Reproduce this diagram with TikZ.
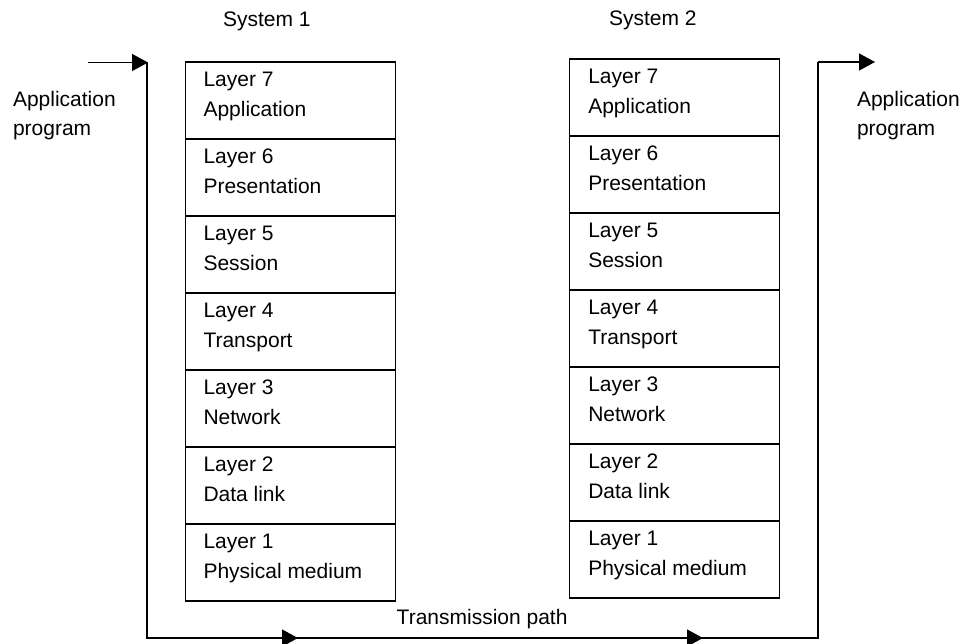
\documentclass[tikz,border=0pt]{standalone}
\usepackage{fontspec}
\setmainfont{Liberation Sans}
\usetikzlibrary{arrows.meta,calc}
\begin{document}
\begin{tikzpicture}[x=1pt,y=-1pt,
  every node/.style={font=\fontsize{21}{30}\selectfont, inner sep=0pt, outer sep=0pt},
  layerbox/.style={draw, line width=1.3pt, minimum width=210pt, minimum height=77pt, anchor=north west},
  txt/.style={anchor=base west},
  wire/.style={line width=1.3pt},
  arr/.style={line width=1.3pt, -{Triangle[length=16pt,width=17pt]}}]
\useasboundingbox (0,0) rectangle (964,643);
% titles
\node[txt] (t1) at (223,26.7) {System 1};
\node[txt] (t2) at (609,25) {System 2};
% System 1 and 2 stacks
\foreach \k/\n/\lab in {0/7/Application,1/6/Presentation,2/5/Session,3/4/Transport,4/3/Network,5/2/Data link,6/1/Physical medium}{
  \node[layerbox] (a\n) at (185.5,{62+77*\k}) {};
  \node[txt] (a\n l) at ($(a\n.north west)+(18,24)$) {Layer \n};
  \node[txt] (a\n n) at ($(a\n.north west)+(18,54)$) {\lab};
  \node[layerbox] (b\n) at (569.3,{59+77*\k}) {};
  \node[txt] (b\n l) at ($(b\n.north west)+(19,24)$) {Layer \n};
  \node[txt] (b\n n) at ($(b\n.north west)+(19,54)$) {\lab};
}
% application program labels
\node[txt] (apL1) at (13,106.5) {Application};
\node[txt] (apL2) at (13,135) {program};
\node[txt] (apR1) at (857,106) {Application};
\node[txt] (apR2) at (857,135) {program};
\node[txt] (tp) at (396.7,624.3) {Transmission path};
% path
\coordinate (inL) at (88,62.5);
\coordinate (cL) at (148,62.5);
\coordinate (tL) at (147,62.5);
\coordinate (bL) at (147,638);
\coordinate (m1) at (298,638);
\coordinate (m2) at (703,638);
\coordinate (bR) at (818,638);
\coordinate (cR) at (818,62);
\coordinate (outR) at (875,62);
\draw[arr] (inL) -- (cL);
\draw[wire] (tL) -- (bL) -- (bR) -- (cR);
\draw[arr] (bL) -- (m1);
\draw[arr] (bL) -- (m2);
\draw[arr] (cR) -- (outR);
\end{tikzpicture}
\end{document}
